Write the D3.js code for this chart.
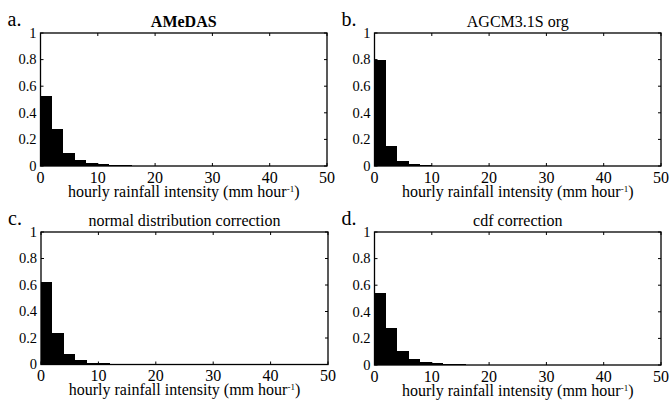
<!DOCTYPE html>
<html>
<head>
<meta charset="utf-8">
<script src="https://cdn.jsdelivr.net/npm/d3@7"></script>
<style>
body { margin: 0; background: #fff; }
</style>
</head>
<body>
<svg width="670" height="401"></svg>
<script>
/*
Histogram data, bins of 2 mm/hour from 0 to 50
*/

const binEdges = d3.range(0, 50, 2);

const amedasFreq = [0.526, 0.28, 0.095, 0.045, 0.02, 0.012, 0.007, 0.004, 0.003, 0.002, 0.001, 0.001, 0.001, 0, 0, 0, 0, 0, 0, 0, 0, 0, 0, 0, 0];
const agcmFreq = [0.795, 0.15, 0.038, 0.012, 0.006, 0.003, 0.002, 0.001, 0.001, 0.001, 0, 0, 0, 0, 0, 0, 0, 0, 0, 0, 0, 0, 0, 0, 0];
const normalFreq = [0.62, 0.24, 0.078, 0.036, 0.015, 0.008, 0.004, 0.002, 0.001, 0.001, 0, 0, 0, 0, 0, 0, 0, 0, 0, 0, 0, 0, 0, 0, 0];
const cdfFreq = [0.54, 0.28, 0.103, 0.045, 0.02, 0.012, 0.007, 0.004, 0.002, 0.001, 0.001, 0, 0, 0, 0, 0, 0, 0, 0, 0, 0, 0, 0, 0, 0];

const panelLetters = ['a.', 'b.', 'c.', 'd.'];
const panelTitles = ['AMeDAS', 'AGCM3.1S org', 'normal distribution correction', 'cdf correction'];
const xTicks = [0, 10, 20, 30, 40, 50];
const yTicks = [0, 0.2, 0.4, 0.6, 0.8, 1];
const xLabel = 'hourly rainfall intensity (mm hour';

var svg = d3.select('svg')
	.attr('font-family', "'Liberation Serif', 'Times New Roman', Times, 'DejaVu Serif', serif");

// axes boxes for each panel
var panels = [
	{ freq: amedasFreq, left: 40.5, right: 327, top: 33, bottom: 166, bold: true },
	{ freq: agcmFreq, left: 374.5, right: 661, top: 33, bottom: 166, bold: false },
	{ freq: normalFreq, left: 41, right: 328, top: 232, bottom: 364.5, bold: false },
	{ freq: cdfFreq, left: 374.5, right: 661, top: 232, bottom: 365, bold: false }
];

panels.forEach(function(p, i){
	var x = d3.scaleLinear().domain([0, 50]).range([p.left, p.right]);
	var y = d3.scaleLinear().domain([0, 1]).range([p.bottom, p.top]);
	var g = svg.append('g');

	// bars
	g.selectAll('rect')
		.data(p.freq)
		.enter().append('rect')
			.attr('x', function(d, j){ return x(binEdges[j]); })
			.attr('width', function(d, j){ return x(binEdges[j] + 2) - x(binEdges[j]); })
			.attr('y', function(d){ return y(d); })
			.attr('height', function(d){ return y(0) - y(d); })
			.attr('fill', '#000')
			.attr('shape-rendering', 'crispEdges');

	// frame
	g.append('rect')
		.attr('x', p.left).attr('y', p.top)
		.attr('width', p.right - p.left).attr('height', p.bottom - p.top)
		.attr('fill', 'none').attr('stroke', '#000').attr('stroke-width', 1.3);

	// inward ticks on all four sides
	var tl = 3;
	g.selectAll('.xt')
		.data(xTicks)
		.enter().append('path')
			.attr('d', function(d){
				return 'M' + x(d) + ',' + p.bottom + 'v' + (-tl) + 'M' + x(d) + ',' + p.top + 'v' + tl;
			})
			.attr('stroke', '#000');
	g.selectAll('.yt')
		.data(yTicks)
		.enter().append('path')
			.attr('d', function(d){
				return 'M' + p.left + ',' + y(d) + 'h' + tl + 'M' + p.right + ',' + y(d) + 'h' + (-tl);
			})
			.attr('stroke', '#000');

	// tick labels
	g.selectAll('.xl')
		.data(xTicks)
		.enter().append('text')
			.attr('x', function(d){ return x(d); })
			.attr('y', p.bottom + 16.5)
			.attr('text-anchor', 'middle')
			.attr('font-size', 16)
			.text(function(d){ return d; });
	g.selectAll('.yl')
		.data(yTicks)
		.enter().append('text')
			.attr('x', p.left - 4)
			.attr('y', function(d){ return y(d) + 4.8; })
			.attr('text-anchor', 'end')
			.attr('font-size', 14.5)
			.text(function(d){ return d; });

	// title, panel letter, x label
	var cx = (p.left + p.right) / 2;
	g.append('text')
		.attr('x', cx).attr('y', p.top - 6)
		.attr('text-anchor', 'middle')
		.attr('font-size', 16)
		.attr('font-weight', p.bold ? 'bold' : 'normal')
		.text(panelTitles[i]);
	g.append('text')
		.attr('x', p.left - 33).attr('y', p.top - 7)
		.attr('font-size', 20)
		.text(panelLetters[i]);
	var xl = g.append('text')
		.attr('x', cx).attr('y', p.bottom + 30.5)
		.attr('text-anchor', 'middle')
		.attr('font-size', 16);
	xl.append('tspan').text(xLabel);
	xl.append('tspan').attr('dy', -5).attr('font-size', 9).text('-1');
	xl.append('tspan').attr('dy', 5).text(')');
});
</script>
</body>
</html>
